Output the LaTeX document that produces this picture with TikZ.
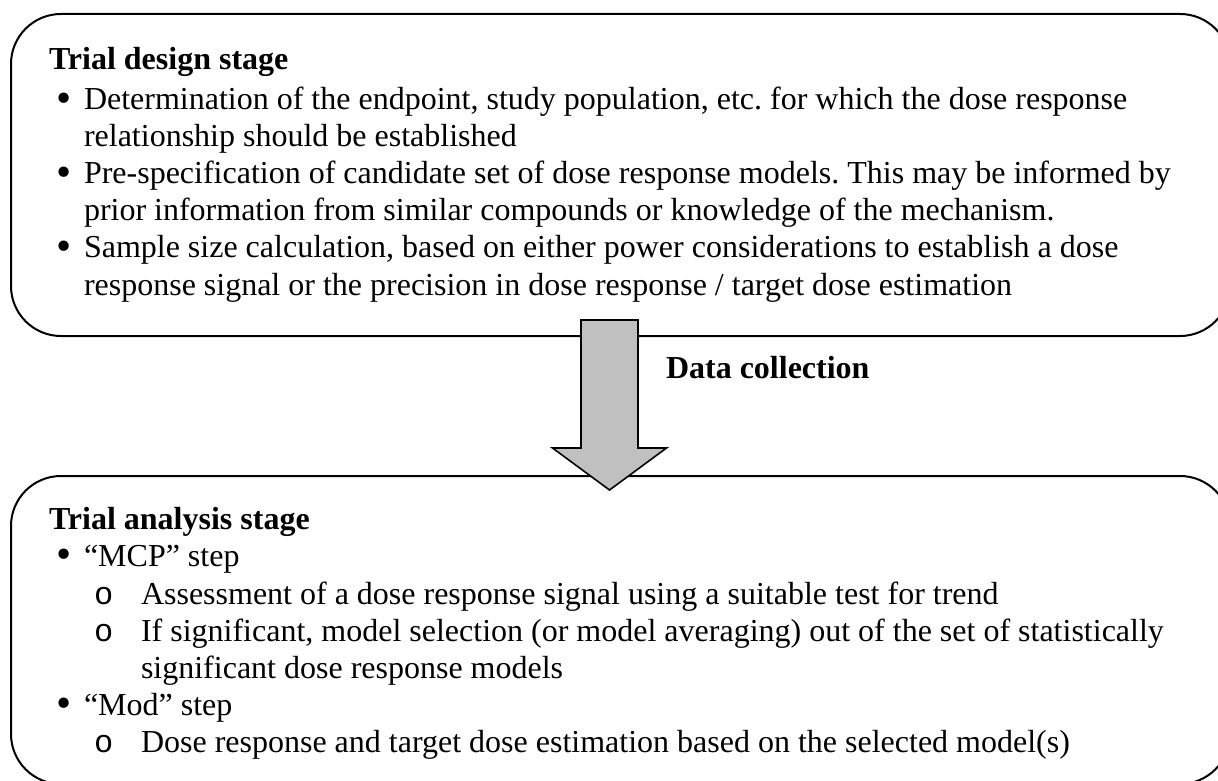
\documentclass[tikz,border=0pt]{standalone}
\usepackage{graphicx}
\usepackage{fontspec}
\setmainfont{Liberation Serif}
\newfontfamily\subfont{Liberation Mono}
\usetikzlibrary{calc}
\definecolor{silver}{RGB}{192,192,192}
\newcommand{\bul}{\makebox[17.5pt][l]{\hspace{3.5pt}\raisebox{-0.15ex}{\scalebox{1.35}{\textbullet}}}}
\newcommand{\subbul}{\makebox[46pt][l]{\hspace{22.5pt}{\subfont o}}}

\begin{document}
\begin{tikzpicture}[x=0.5pt, y=-0.5pt, line width=1pt,
	txt/.style={anchor=base west, align=left, inner sep=0pt, font=\fontsize{16}{18.5}\selectfont\frenchspacing}]
	\useasboundingbox (0,0) rectangle (1218,780);
	% the two stages
	\draw[rounded corners=25pt] (11,14) rectangle (1230,336);
	\draw[rounded corners=25pt] (11,476) rectangle (1230,784);
	\node[txt] (design) at (48,70) {\textbf{Trial design stage}};
	\node[txt] (endpoint) at (48,147) {\bul Determination of the endpoint, study population, etc. for which the dose response\\
		\hspace*{17.5pt}relationship should be established};
	\node[txt] (models) at (48,221) {\bul Pre-specification of candidate set of dose response models. This may be informed by\\
		\hspace*{17.5pt}prior information from similar compounds or knowledge of the mechanism.};
	\node[txt] (size) at (48,295) {\bul Sample size calculation, based on either power considerations to establish a dose\\
		\hspace*{17.5pt}response signal or the precision in dose response / target dose estimation};
	\node[txt] (analysis) at (48,529) {\textbf{Trial analysis stage}};
	\node[txt] (mcp) at (48,566) {\bul “MCP” step};
	\node[txt] (trend) at (48,604) {\subbul Assessment of a dose response signal using a suitable test for trend};
	\node[txt] (select) at (48,678) {\subbul If significant, model selection (or model averaging) out of the set of statistically\\
		\hspace*{46pt}significant dose response models};
	\node[txt] (mod) at (48,715) {\bul “Mod” step};
	\node[txt] (estim) at (48,752) {\subbul Dose response and target dose estimation based on the selected model(s)};
	% data collection arrow
	\coordinate (arrtop) at (609.5,320);
	\coordinate (arrtip) at (609.5,490);
	\draw[fill=silver, line width=0.8pt, line join=miter] ($(arrtop)+(-28.5,0)$) -- ($(arrtop)+(28.5,0)$) -- ($(arrtip)+(28.5,-42)$) -- ($(arrtip)+(57,-42)$) -- (arrtip) -- ($(arrtip)+(-57,-42)$) -- ($(arrtip)+(-28.5,-42)$) -- cycle;
	\node[txt] (collect) at (665,378) {\textbf{Data collection}};
\end{tikzpicture}
\end{document}
